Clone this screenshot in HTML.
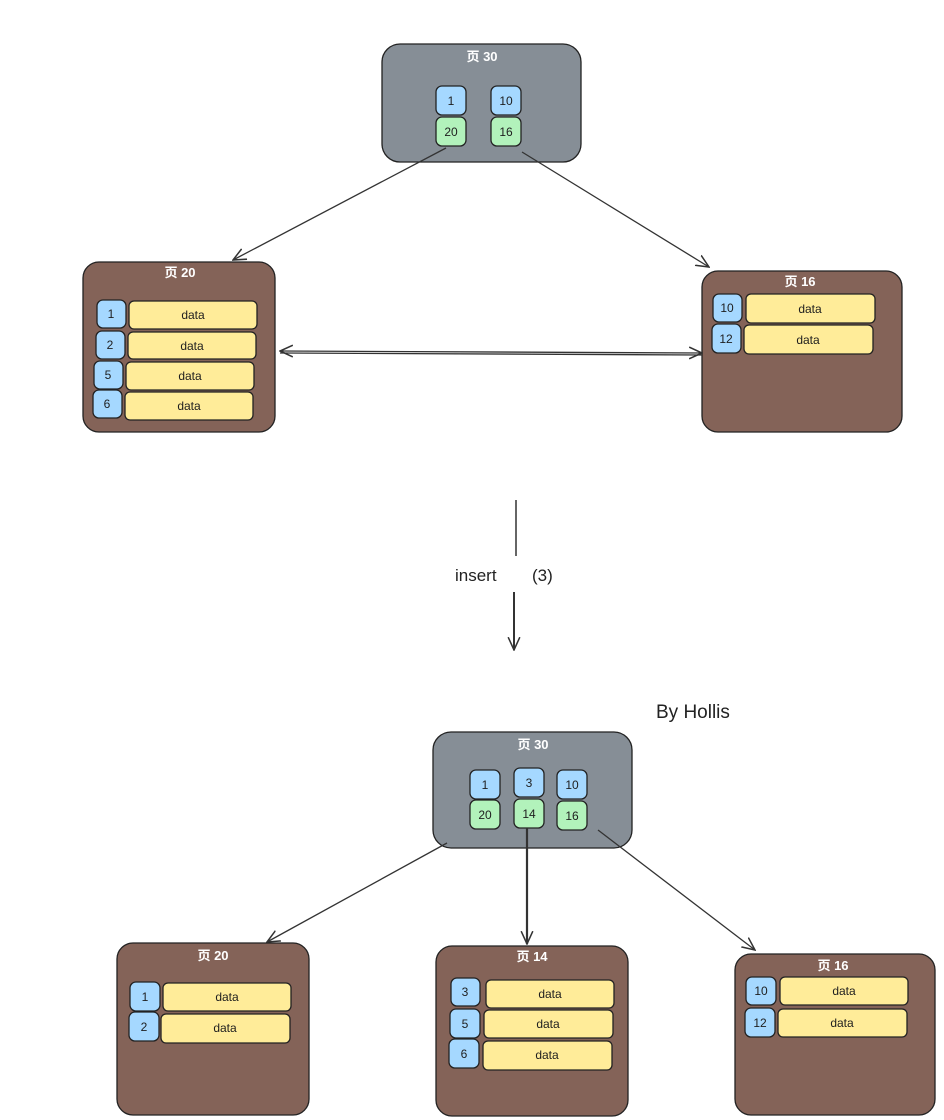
<!DOCTYPE html>
<html><head><meta charset="utf-8"><style>
html,body{margin:0;padding:0;background:#fff;width:944px;height:1120px;overflow:hidden}
svg text{font-family:"Liberation Sans","Noto Sans CJK SC",sans-serif}
</style></head><body>
<svg width="944" height="1120" viewBox="0 0 944 1120" xmlns="http://www.w3.org/2000/svg">
<defs>
<marker id="ah" viewBox="0 0 12 12" refX="11" refY="6" markerWidth="14" markerHeight="14" markerUnits="userSpaceOnUse" orient="auto-start-reverse">
<path d="M0,1 L11,6 L0,11" fill="none" stroke="#333" stroke-width="1.3"/>
</marker>
</defs>
<g stroke="#222" stroke-width="1.3">
<rect x="382" y="44" width="199" height="118" rx="18" fill="#868e96"/>
<rect x="436" y="86" width="30" height="29" rx="6" fill="#a5d8ff"/>
<rect x="491" y="86" width="30" height="29" rx="6" fill="#a5d8ff"/>
<rect x="436" y="117" width="30" height="29" rx="6" fill="#b2f2bb"/>
<rect x="491" y="117" width="30" height="29" rx="6" fill="#b2f2bb"/>
<rect x="83" y="262" width="192" height="170" rx="16" fill="#846358"/>
<rect x="97" y="300" width="29" height="28" rx="6" fill="#a5d8ff"/>
<rect x="129" y="301" width="128" height="28" rx="5" fill="#ffec99"/>
<rect x="96" y="331" width="29" height="28" rx="6" fill="#a5d8ff"/>
<rect x="128" y="332" width="128" height="27" rx="5" fill="#ffec99"/>
<rect x="94" y="361" width="29" height="28" rx="6" fill="#a5d8ff"/>
<rect x="126" y="362" width="128" height="28" rx="5" fill="#ffec99"/>
<rect x="93" y="390" width="29" height="28" rx="6" fill="#a5d8ff"/>
<rect x="125" y="392" width="128" height="28" rx="5" fill="#ffec99"/>
<rect x="702" y="271" width="200" height="161" rx="16" fill="#846358"/>
<rect x="713" y="294" width="29" height="28" rx="6" fill="#a5d8ff"/>
<rect x="746" y="294" width="129" height="29" rx="5" fill="#ffec99"/>
<rect x="712" y="324" width="29" height="29" rx="6" fill="#a5d8ff"/>
<rect x="744" y="325" width="129" height="29" rx="5" fill="#ffec99"/>
<rect x="433" y="732" width="199" height="116" rx="18" fill="#868e96"/>
<rect x="470" y="770" width="30" height="29" rx="6" fill="#a5d8ff"/>
<rect x="514" y="768" width="30" height="29" rx="6" fill="#a5d8ff"/>
<rect x="557" y="770" width="30" height="29" rx="6" fill="#a5d8ff"/>
<rect x="470" y="800" width="30" height="29" rx="6" fill="#b2f2bb"/>
<rect x="514" y="799" width="30" height="29" rx="6" fill="#b2f2bb"/>
<rect x="557" y="801" width="30" height="29" rx="6" fill="#b2f2bb"/>
<rect x="117" y="943" width="192" height="172" rx="16" fill="#846358"/>
<rect x="130" y="982" width="30" height="29" rx="6" fill="#a5d8ff"/>
<rect x="163" y="983" width="128" height="28" rx="5" fill="#ffec99"/>
<rect x="129" y="1012" width="30" height="29" rx="6" fill="#a5d8ff"/>
<rect x="161" y="1014" width="129" height="29" rx="5" fill="#ffec99"/>
<rect x="436" y="946" width="192" height="170" rx="16" fill="#846358"/>
<rect x="451" y="978" width="29" height="28" rx="6" fill="#a5d8ff"/>
<rect x="486" y="980" width="128" height="28" rx="5" fill="#ffec99"/>
<rect x="450" y="1009" width="30" height="29" rx="6" fill="#a5d8ff"/>
<rect x="484" y="1010" width="129" height="28" rx="5" fill="#ffec99"/>
<rect x="449" y="1039" width="30" height="29" rx="6" fill="#a5d8ff"/>
<rect x="483" y="1041" width="129" height="29" rx="5" fill="#ffec99"/>
<rect x="735" y="954" width="200" height="161" rx="16" fill="#846358"/>
<rect x="746" y="977" width="30" height="28" rx="6" fill="#a5d8ff"/>
<rect x="780" y="977" width="128" height="28" rx="5" fill="#ffec99"/>
<rect x="745" y="1008" width="30" height="29" rx="6" fill="#a5d8ff"/>
<rect x="778" y="1009" width="129" height="28" rx="5" fill="#ffec99"/>
</g>
<g stroke="#333" stroke-width="1.3" fill="none">
<line x1="446" y1="148" x2="233" y2="260" marker-end="url(#ah)"/>
<line x1="522" y1="152" x2="709" y2="267" marker-end="url(#ah)"/>
<line x1="280" y1="351" x2="702" y2="353" marker-start="url(#ah)" marker-end="url(#ah)"/>
<line x1="280" y1="353" x2="702" y2="355"/>
<line x1="516" y1="500" x2="516" y2="556" stroke="#666" stroke-width="2"/>
<line x1="514" y1="592" x2="514" y2="650" stroke-width="2" marker-end="url(#ah)"/>
<line x1="447" y1="843" x2="267" y2="942" marker-end="url(#ah)"/>
<line x1="527" y1="828" x2="527" y2="944" stroke-width="2.2" marker-end="url(#ah)"/>
<line x1="598" y1="830" x2="755" y2="950" marker-end="url(#ah)"/>
</g>
<g fill="#fff" font-size="13" font-weight="bold" text-anchor="middle">
<text x="482" y="61">页 30</text>
<text x="180" y="277">页 20</text>
<text x="800" y="286">页 16</text>
<text x="533" y="749">页 30</text>
<text x="213" y="960">页 20</text>
<text x="532" y="961">页 14</text>
<text x="833" y="970">页 16</text>
</g>
<g fill="#1e1e1e" font-size="12" text-anchor="middle">
<text x="451" y="105">1</text><text x="506" y="105">10</text>
<text x="451" y="136">20</text><text x="506" y="136">16</text>
<text x="111" y="318">1</text><text x="110" y="349">2</text><text x="108" y="379">5</text><text x="107" y="408">6</text>
<text x="193" y="319">data</text><text x="192" y="350">data</text><text x="190" y="380">data</text><text x="189" y="410">data</text>
<text x="727" y="312">10</text><text x="726" y="343">12</text>
<text x="810" y="313">data</text><text x="808" y="344">data</text>
<text x="485" y="789">1</text><text x="529" y="787">3</text><text x="572" y="789">10</text>
<text x="485" y="819">20</text><text x="529" y="818">14</text><text x="572" y="820">16</text>
<text x="145" y="1001">1</text><text x="144" y="1031">2</text>
<text x="227" y="1001">data</text><text x="225" y="1032">data</text>
<text x="465" y="996">3</text><text x="465" y="1028">5</text><text x="464" y="1058">6</text>
<text x="550" y="998">data</text><text x="548" y="1028">data</text><text x="547" y="1059">data</text>
<text x="761" y="995">10</text><text x="760" y="1027">12</text>
<text x="844" y="995">data</text><text x="842" y="1027">data</text>
</g>
<text x="455" y="581" font-size="17" fill="#222">insert</text>
<text x="532" y="581" font-size="17" fill="#222">(3)</text>
<text x="656" y="718" font-size="19" fill="#222">By Hollis</text>
</svg>
</body></html>
